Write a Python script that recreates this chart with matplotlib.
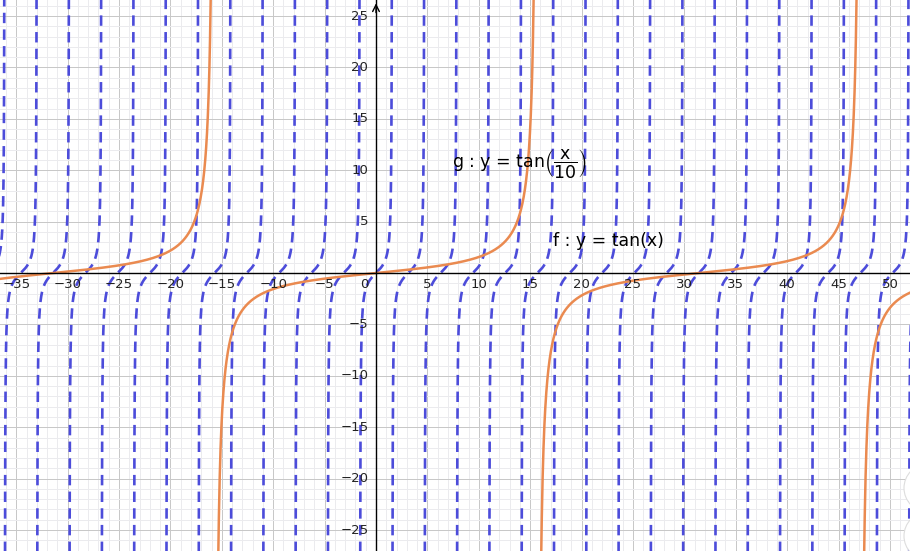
"""
Recreate the GeoGebra graph of tan(x) and tan(x/10).
"""
import numpy as np
import matplotlib.pyplot as plt
from matplotlib.patches import Circle

plt.rcParams['mathtext.default'] = 'regular'
plt.rcParams['mathtext.fontset'] = 'dejavusans'
plt.rcParams['lines.scale_dashes'] = False

# view window (data units)
x_min, x_max = -36.58, 51.95
y_min, y_max = -27.04, 26.56

# functions: y = tan(x / period_scale)
func_names = ['f', 'g']
func_scales = [1.0, 10.0]
func_colors = ['#4c4cda', '#ea8a50']
func_labels = [r'f : y = tan(x)', r'g : y = tan$\left(\dfrac{x}{10}\right)$']
label_pos = [(17.2, 3.1), (7.4, 10.7)]

x_tick_vals = [-35, -30, -25, -20, -15, -10, -5, 5, 10, 15, 20, 25, 30, 35, 40, 45, 50]
y_tick_vals = [25, 20, 15, 10, 5, -5, -10, -15, -20, -25]


def branches(scale):
    """Return list of (x, y) arrays, one per branch between asymptotes"""
    out = []
    half = np.pi / 2 * scale
    k_lo = int(np.floor((x_min - half) / (np.pi * scale))) - 1
    k_hi = int(np.ceil((x_max + half) / (np.pi * scale))) + 1
    for k in range(k_lo, k_hi + 1):
        c = k * np.pi * scale
        eps = 1e-4 * scale
        xs = np.linspace(c - half + eps, c + half - eps, 1500)
        ys = np.tan(xs / scale)
        keep = (np.abs(ys) < 60) & (xs > x_min - 1) & (xs < x_max + 1)
        if keep.sum() > 1:
            out.append((xs[keep], ys[keep]))
    return out


fig = plt.figure(figsize=(9.10, 5.51), dpi=100)
ax = fig.add_axes([0, 0, 1, 1])
ax.set_xlim(x_min, x_max)
ax.set_ylim(y_min, y_max)
ax.axis('off')

# grid
for v in range(int(np.floor(x_min)), int(np.ceil(x_max)) + 1):
    major = v % 5 == 0
    ax.axvline(v, color='#c8c8c8' if major else '#ebebee', lw=0.72, zorder=0)
for v in range(int(np.floor(y_min)), int(np.ceil(y_max)) + 1):
    major = v % 5 == 0
    ax.axhline(v, color='#c8c8c8' if major else '#ebebee', lw=0.72, zorder=0)

# axes
ax.axhline(0, color='black', lw=1.0, zorder=3)
ax.axvline(0, color='black', lw=1.0, zorder=3)
ax.annotate('', xy=(0, y_max - 0.05), xytext=(0, y_max - 1.5),
            arrowprops=dict(arrowstyle='->', color='black', lw=1.0,
                            mutation_scale=12), zorder=3)

# curves
for name, scale, color in zip(func_names, func_scales, func_colors):
    for xs, ys in branches(scale):
        if name == 'f':
            ax.plot(xs, ys, color=color, lw=1.9, dashes=(7.5, 4.5),
                    zorder=2)
        else:
            ax.plot(xs, ys, color=color, lw=1.8, zorder=2.5)

# tick labels
for v in x_tick_vals:
    ax.text(v, -1.15, f'{v}'.replace('-', '\u2212'), ha='center', va='center',
            fontsize=9.5, color='#222222', zorder=4)
for v in y_tick_vals:
    ax.text(-0.75, v, f'{v}'.replace('-', '\u2212'), ha='right', va='center',
            fontsize=9.5, color='#222222', zorder=4)
ax.text(-0.75, -1.15, '0', ha='right', va='center', fontsize=9.5,
        color='#222222', zorder=4)

# function labels
for text, (lx, ly) in zip(func_labels, label_pos):
    ax.text(lx, ly, text, ha='left', va='center', fontsize=12.5,
            color='black', zorder=4)

# GeoGebra UI buttons peeking in at the right edge
for cy in [488, 536]:
    ax.add_patch(Circle((928, 551 - cy), 24, transform=None,
                        facecolor='white', edgecolor='#dddddd', lw=0.8,
                        zorder=5))

fig.savefig('out.png', dpi=100)
